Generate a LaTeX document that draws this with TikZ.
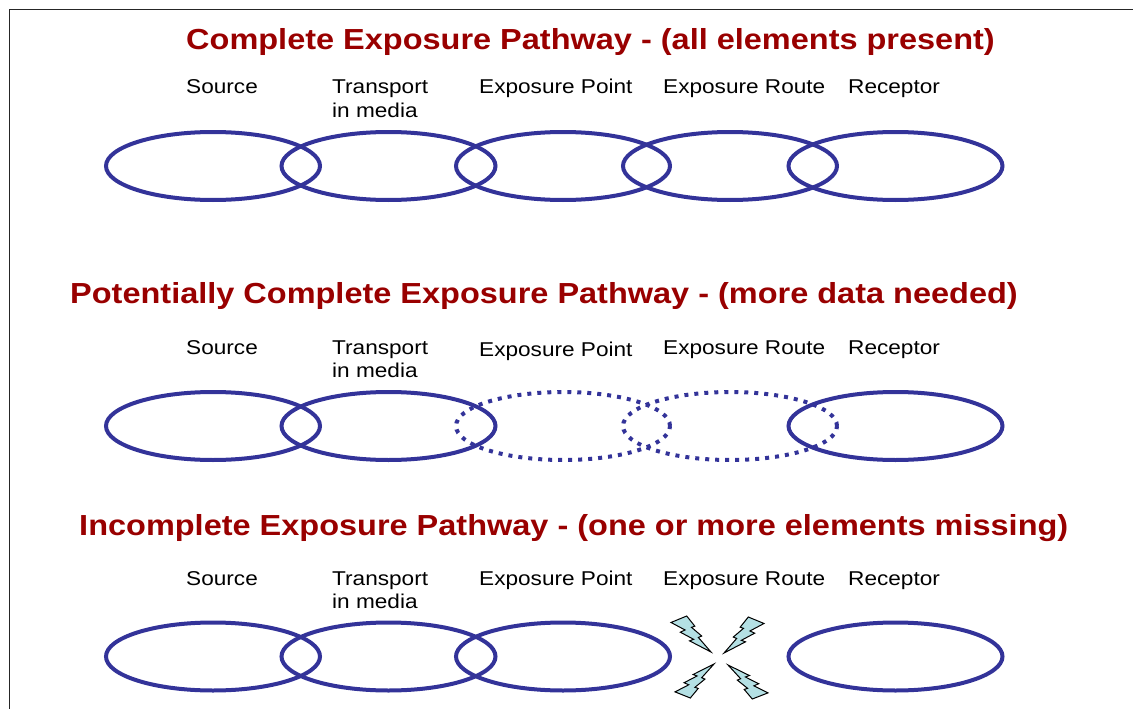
\documentclass[tikz,border=0pt]{standalone}
\usepackage{fontspec}
\setmainfont{Liberation Sans}
\usetikzlibrary{shapes.geometric}
\definecolor{ebl}{RGB}{51,51,153}
\definecolor{tred}{RGB}{153,0,0}
\definecolor{boltfill}{RGB}{180,224,228}
\tikzset{
  ell/.style={ellipse, draw=ebl, line width=4pt, minimum width=214pt, minimum height=68pt, inner sep=0pt, outer sep=0pt},
  dottedell/.style={ell, dash pattern=on 4pt off 6pt},
  ttl/.style={anchor=base west, text=tred, font=\fontsize{29}{34}\selectfont\bfseries, xscale=1.12, inner sep=0pt},
  lbl/.style={anchor=base west, font=\fontsize{20}{23.3}\selectfont, xscale=1.13, inner sep=0pt, align=left},
  boltst/.style={draw=black, line width=1pt, fill=boltfill, line join=miter},
  bolt/.pic={\filldraw[boltst] (0.3922,0) -- (0.5953,0.2815) -- (0.5116,0.3147) -- (0.7675,0.5559) -- (0.6837,0.5962) -- (1,1) -- (0.4635,0.6905) -- (0.5658,0.6475) -- (0.2325,0.4493) -- (0.3519,0.3881) -- (0,0.1801) -- cycle;},
}
\begin{document}
\begin{tikzpicture}[x=1pt,y=-1pt]
\useasboundingbox (0,0) rectangle (1133,709);
\begin{scope}
\clip (0,0) rectangle (1133,709);
\draw[line width=1.5pt, draw=black!85] (9.5,9.5) rectangle (1150,730);
\end{scope}

% Row 1
\node[ttl] (t1) at (186,50) {Complete Exposure Pathway - (all elements present)};
\node[lbl] (r1s) at (186,94) {Source};
\node[lbl] (r1t) at (332,117.3) {Transport\\in media};
\node[lbl] (r1p) at (479,94) {Exposure Point};
\node[lbl] (r1r) at (663,94) {Exposure Route};
\node[lbl] (r1c) at (848,94) {Receptor};
\node[ell] (e11) at (213,166) {};
\node[ell] (e12) at (388.5,166) {};
\node[ell] (e13) at (563,166) {};
\node[ell] (e14) at (730,166) {};
\node[ell] (e15) at (895.5,166) {};

% Row 2
\node[ttl] (t2) at (70,303.5) {Potentially Complete Exposure Pathway - (more data needed)};
\node[lbl] (r2s) at (186,354) {Source};
\node[lbl] (r2t) at (332,377.3) {Transport\\in media};
\node[lbl] (r2p) at (479,356) {Exposure Point};
\node[lbl] (r2r) at (663,354) {Exposure Route};
\node[lbl] (r2c) at (848,354) {Receptor};
\node[ell] (e21) at (213,426) {};
\node[ell] (e22) at (388.5,426) {};
\node[dottedell] (e23) at (563,426) {};
\node[dottedell] (e24) at (730,426) {};
\node[ell] (e25) at (895.5,426) {};

% Row 3
\node[ttl] (t3) at (79,535) {Incomplete Exposure Pathway - (one or more elements missing)};
\node[lbl] (r3s) at (186,585) {Source};
\node[lbl] (r3t) at (332,608.3) {Transport\\in media};
\node[lbl] (r3p) at (479,585) {Exposure Point};
\node[lbl] (r3r) at (663,585) {Exposure Route};
\node[lbl] (r3c) at (848,585) {Receptor};
\node[ell] (e31) at (213,656.5) {};
\node[ell] (e32) at (388.5,656.5) {};
\node[ell] (e33) at (563,656.5) {};
\node[ell] (e35) at (895.5,656.5) {};

% broken link
\pic[xscale=40,yscale=36] (b1) at (671,616) {bolt};
\pic[xscale=-40,yscale=36] (b2) at (764,617) {bolt};
\pic[xscale=39,yscale=-34] (b3) at (675,698) {bolt};
\pic[xscale=-40,yscale=-34] (b4) at (768,699) {bolt};
\end{tikzpicture}
\end{document}
